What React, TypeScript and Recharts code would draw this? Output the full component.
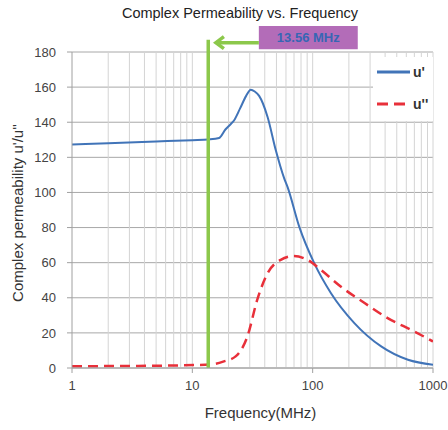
import React from 'react';
import {
  LineChart,
  Line,
  XAxis,
  YAxis,
  CartesianGrid,
  ReferenceLine,
  ReferenceArea,
  Legend,
} from 'recharts';

const uPrimeFreq = [1, 2, 5, 10, 13.56, 16.7, 18.9, 20.9, 22.2, 25, 28, 30.6, 33, 35.9, 42.2, 49.4, 58, 61.9, 77.3, 103, 142, 222, 371, 619, 1000];
const uPrimeValues = [127.3, 128, 129, 129.8, 130.2, 131, 136, 139, 141, 148, 155, 158.5, 157.5, 155, 143, 124, 108, 103, 80.5, 59.7, 42.6, 25.6, 12.3, 4.7, 1.9];

// u'' (imaginary part)
const uDoubleFreq = [1, 2, 5, 8, 14.2, 18.3, 22.9, 28.7, 34.6, 42.2, 54.3, 70, 90.6, 117, 171, 270, 420, 700, 1000];
const uDoubleValues = [1, 1.1, 1.3, 1.5, 2, 3.8, 6.6, 18, 38.8, 54, 61.6, 63.8, 61.6, 55.9, 46.4, 37, 28.4, 20.8, 15.1];

const xTicks = [1, 10, 100, 1000];
const yTicks = [0, 20, 40, 60, 80, 100, 120, 140, 160, 180];
const minorGrid = [2, 3, 4, 5, 6, 7, 8, 9, 10, 20, 30, 40, 50, 60, 70, 80, 90, 100, 200, 300, 400, 500, 600, 700, 800, 900, 1000];

const markerFreq = 13.56;
const markerLabel = '13.56 MHz';

const uPrimeData = uPrimeFreq.map((f, i) => ({ f, v: uPrimeValues[i] }));
const uDoubleData = uDoubleFreq.map((f, i) => ({ f, v: uDoubleValues[i] }));

const BLUE = '#4174b8';
const RED = '#e8303a';
const GREEN = '#8cc84b';
const FONT = '"Liberation Sans", Arial, sans-serif';

function ArrowShape(props: any) {
  const { x1, y1, x2, y2 } = props;
  return (
    <g>
      <line x1={x1 + 2} y1={y1} x2={x2} y2={y2} stroke={GREEN} strokeWidth={3.5} />
      <polyline
        points={`${x1 + 9},${y1 - 6} ${x1 + 1},${y1} ${x1 + 9},${y1 + 6}`}
        fill="none"
        stroke={GREEN}
        strokeWidth={3.5}
      />
    </g>
  );
}

function LegendBox() {
  return (
    <svg width={60} height={64} style={{ background: '#fff', display: 'block' }}>
      <line x1={4} y1={15} x2={37} y2={15} stroke={BLUE} strokeWidth={3} />
      <text x={40} y={20} fontSize={14} fontWeight="bold" fill="#333" fontFamily={FONT}>u'</text>
      <line x1={4} y1={47} x2={37} y2={47} stroke={RED} strokeWidth={3} strokeDasharray="11 6" />
      <text x={40} y={52} fontSize={14} fontWeight="bold" fill="#333" fontFamily={FONT}>u''</text>
    </svg>
  );
}

export default function App() {
  return (
    <div style={{ position: 'absolute', left: 0, top: 0, width: 448, height: 430, background: '#fff', fontFamily: FONT }}>
      <LineChart width={448} height={430} margin={{ top: 52, right: 15, bottom: 0, left: 0 }}>
        <CartesianGrid vertical={false} stroke="#a8a8a8" />
        {minorGrid.map((g) => (
          <ReferenceLine key={g} x={g} stroke="#d4d4d4" strokeWidth={1} />
        ))}
        <XAxis
          dataKey="f"
          type="number"
          scale="log"
          domain={[1, 1000]}
          ticks={xTicks}
          allowDataOverflow
          height={62}
          tickSize={5}
          tickMargin={8}
          stroke="#a0a0a0"
          tick={{ fill: '#444', fontSize: 13, fontFamily: FONT }}
          label={{
            content: ({ viewBox }: any) => (
              <text
                x={viewBox.x + viewBox.width / 2 + 8}
                y={viewBox.y + 50}
                textAnchor="middle"
                fontSize={15}
                fill="#333"
                fontFamily={FONT}
              >
                Frequency(MHz)
              </text>
            ),
          }}
        />
        <YAxis
          type="number"
          domain={[0, 180]}
          ticks={yTicks}
          allowDataOverflow
          width={72}
          tickSize={5}
          tickMargin={11}
          stroke="#a0a0a0"
          tick={{ fill: '#444', fontSize: 13, fontFamily: FONT }}
          label={{
            content: ({ viewBox }: any) => {
              const cx = 17;
              const cy = viewBox.y + viewBox.height / 2 + 3;
              return (
                <text
                  x={cx}
                  y={cy}
                  transform={`rotate(-90, ${cx}, ${cy})`}
                  textAnchor="middle"
                  dominantBaseline="central"
                  fontSize={15}
                  fill="#333"
                  fontFamily={FONT}
                >
                  Complex permeability u'/u''
                </text>
              );
            },
          }}
        />
        <Line
          data={uPrimeData}
          dataKey="v"
          name="u'"
          type="monotone"
          stroke={BLUE}
          strokeWidth={2}
          dot={false}
          isAnimationActive={false}
        />
        <Line
          data={uDoubleData}
          dataKey="v"
          name="u''"
          type="monotone"
          stroke={RED}
          strokeWidth={2.5}
          strokeDasharray="10 6"
          dot={false}
          isAnimationActive={false}
        />
        <ReferenceLine
          segment={[{ x: markerFreq, y: 0 }, { x: markerFreq, y: 187 }]}
          stroke={GREEN}
          strokeWidth={3.5}
          ifOverflow="visible"
        />
        <ReferenceLine
          segment={[{ x: 15.4, y: 185.3 }, { x: 35.7, y: 185.3 }]}
          ifOverflow="visible"
          shape={ArrowShape}
        />
        <ReferenceArea
          x1={35.7}
          x2={237}
          y1={181.5}
          y2={194.8}
          ifOverflow="visible"
          fill="#b36cb8"
          fillOpacity={1}
          stroke="none"
          label={{ value: markerLabel, position: 'center', fill: '#3766b4', fontSize: 13, fontWeight: 'bold', fontFamily: FONT }}
        />
        <Legend
          layout="vertical"
          align="center"
          verticalAlign="middle"
          content={() => <LegendBox />}
          wrapperStyle={{ left: 373, top: 57, width: 60, height: 64 }}
        />
      </LineChart>
      <div
        style={{
          position: 'absolute',
          left: 0,
          top: 5,
          width: 480,
          textAlign: 'center',
          fontSize: 14.5,
          color: '#222',
          pointerEvents: 'none',
        }}
      >
        Complex Permeability vs. Frequency
      </div>
    </div>
  );
}
